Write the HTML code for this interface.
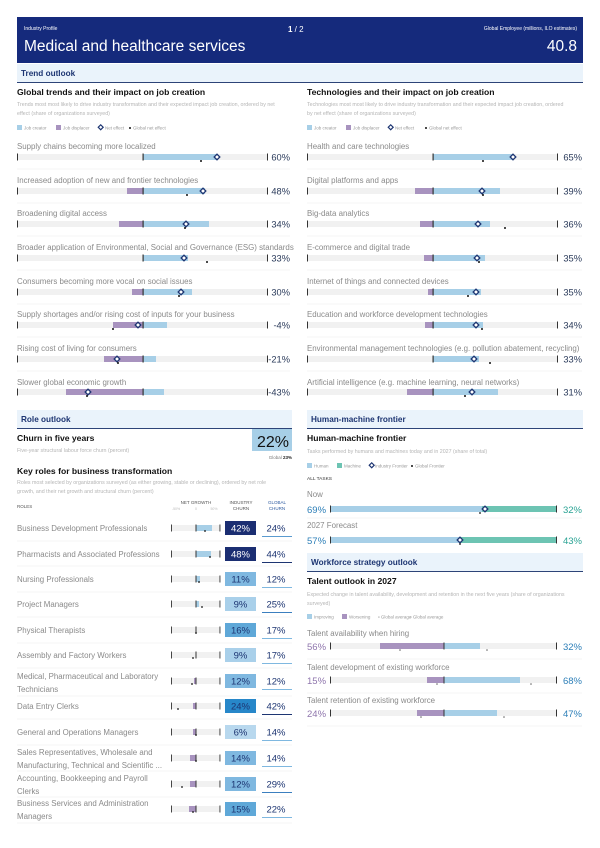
<!DOCTYPE html>
<html><head><meta charset="utf-8"><style>
html,body{margin:0;padding:0;background:#fff;}
svg{display:block;font-family:"Liberation Sans",sans-serif;}
.lb{font-size:7.9px;fill:#8a8a8a;}
.ds{font-size:5.3px;fill:#b5b5b5;}
.h{font-size:8.6px;font-weight:bold;fill:#111;}
.bd{font-size:8.2px;font-weight:bold;fill:#1d3572;}
.pc{font-size:9.3px;fill:#2a3a5a;}
</style></head><body>
<svg width="600" height="848" viewBox="0 0 600 848">
<rect x="17" y="17" width="566" height="46" fill="#152a7c"/>
<text x="24" y="30" font-size="5" fill="#fff">Industry Profile</text>
<text x="24" y="51" font-size="15.5" fill="#fff">Medical and healthcare services</text>
<text x="288" y="32" font-size="8" fill="#fff"><tspan font-weight="bold">1</tspan> / 2</text>
<text x="577" y="30" font-size="5" fill="#fff" text-anchor="end">Global Employee (millions, ILO estimates)</text>
<text x="577" y="51" font-size="15.5" fill="#fff" text-anchor="end">40.8</text>
<rect x="17" y="64" width="566" height="18" fill="#eaf3fb"/>
<rect x="17" y="82" width="566" height="1" fill="#2d4478"/>
<text x="21" y="76" class="bd">Trend outlook</text>

<text x="17" y="95" class="h">Global trends and their impact on job creation</text>
<text x="17" y="106" class="ds">Trends most most likely to drive industry transformation and their expected impact job creation, ordered by net</text>
<text x="17" y="115" class="ds">effect (share of organizations surveyed)</text>
<g font-size="4.5" fill="#999">
<rect x="17" y="125" width="5" height="5" fill="#a7cfe7"/><text x="24" y="129.5">Job creator</text>
<rect x="56" y="125" width="5" height="5" fill="#a893bf"/><text x="63" y="129.5">Job displacer</text>
<rect x="99" y="125.5" width="3.5" height="3.5" fill="none" stroke="#1d3572" stroke-width="1.2" transform="rotate(45 100.7 127.2)"/><text x="105" y="129.5">Net effect</text>
<circle cx="130" cy="128" r="1" fill="#111"/><text x="133" y="129.5">Global net effect</text>
</g>
<g font-size="4.5" fill="#999">
<rect x="307" y="125" width="5" height="5" fill="#a7cfe7"/><text x="314" y="129.5">Job creator</text>
<rect x="346" y="125" width="5" height="5" fill="#a893bf"/><text x="353" y="129.5">Job displacer</text>
<rect x="389" y="125.5" width="3.5" height="3.5" fill="none" stroke="#1d3572" stroke-width="1.2" transform="rotate(45 390.7 127.2)"/><text x="395" y="129.5">Net effect</text>
<circle cx="426" cy="128" r="1" fill="#111"/><text x="429" y="129.5">Global net effect</text>
</g>
<text x="307" y="95" class="h">Technologies and their impact on job creation</text>
<text x="307" y="106" class="ds">Technologies most most likely to drive industry transformation and their expected impact job creation, ordered</text>
<text x="307" y="115" class="ds">by net effect (share of organizations surveyed)</text>

<defs>
<g id="dia"><rect x="-2" y="-2" width="4" height="4" fill="#fff" stroke="#1d3572" stroke-width="1.3" transform="rotate(45)"/></g>
</defs>

<text x="17" y="149" class="lb">Supply chains becoming more localized</text>
<text x="17" y="183" class="lb">Increased adoption of new and frontier technologies</text>
<text x="17" y="216" class="lb">Broadening digital access</text>
<text x="17" y="250" class="lb">Broader application of Environmental, Social and Governance (ESG) standards</text>
<text x="17" y="284" class="lb">Consumers becoming more vocal on social issues</text>
<text x="17" y="317" class="lb">Supply shortages and/or rising cost of inputs for your business</text>
<text x="17" y="351" class="lb">Rising cost of living for consumers</text>
<text x="17" y="385" class="lb">Slower global economic growth</text>
<text x="307" y="149" class="lb">Health and care technologies</text>
<text x="307" y="183" class="lb">Digital platforms and apps</text>
<text x="307" y="216" class="lb">Big-data analytics</text>
<text x="307" y="250" class="lb">E-commerce and digital trade</text>
<text x="307" y="284" class="lb">Internet of things and connected devices</text>
<text x="307" y="317" class="lb">Education and workforce development technologies</text>
<text x="307" y="351" class="lb">Environmental management technologies (e.g. pollution abatement, recycling)</text>
<text x="307" y="385" class="lb">Artificial intelligence (e.g. machine learning, neural networks)</text>

<g>
<g transform="translate(0,157)"><rect x="18" y="-3" width="249" height="6" fill="#f1f1f1"/><rect x="143" y="-3" width="74" height="6" fill="#a7cfe7"/><rect x="142.5" y="-3.5" width="1.2" height="7" fill="#333"/><rect x="17" y="-3.5" width="1" height="7" fill="#333"/><rect x="267" y="-3.5" width="1" height="7" fill="#333"/><use href="#dia" x="217" y="0"/><circle cx="201" cy="4" r="1" fill="#111"/><text x="290" y="3.5" class="pc" text-anchor="end">60%</text></g>
<g transform="translate(0,191)"><rect x="18" y="-3" width="249" height="6" fill="#f1f1f1"/><rect x="127" y="-3" width="16" height="6" fill="#a893bf"/><rect x="143" y="-3" width="62" height="6" fill="#a7cfe7"/><rect x="142.5" y="-3.5" width="1.2" height="7" fill="#333"/><rect x="17" y="-3.5" width="1" height="7" fill="#333"/><rect x="267" y="-3.5" width="1" height="7" fill="#333"/><use href="#dia" x="203" y="0"/><circle cx="187" cy="4" r="1" fill="#111"/><text x="290" y="3.5" class="pc" text-anchor="end">48%</text></g>
<g transform="translate(0,224)"><rect x="18" y="-3" width="249" height="6" fill="#f1f1f1"/><rect x="119" y="-3" width="24" height="6" fill="#a893bf"/><rect x="143" y="-3" width="66" height="6" fill="#a7cfe7"/><rect x="142.5" y="-3.5" width="1.2" height="7" fill="#333"/><rect x="17" y="-3.5" width="1" height="7" fill="#333"/><rect x="267" y="-3.5" width="1" height="7" fill="#333"/><use href="#dia" x="186" y="0"/><circle cx="185" cy="4" r="1" fill="#111"/><text x="290" y="3.5" class="pc" text-anchor="end">34%</text></g>
<g transform="translate(0,258)"><rect x="18" y="-3" width="249" height="6" fill="#f1f1f1"/><rect x="143" y="-3" width="45" height="6" fill="#a7cfe7"/><rect x="142.5" y="-3.5" width="1.2" height="7" fill="#333"/><rect x="17" y="-3.5" width="1" height="7" fill="#333"/><rect x="267" y="-3.5" width="1" height="7" fill="#333"/><use href="#dia" x="184" y="0"/><circle cx="207" cy="4" r="1" fill="#111"/><text x="290" y="3.5" class="pc" text-anchor="end">33%</text></g>
<g transform="translate(0,292)"><rect x="18" y="-3" width="249" height="6" fill="#f1f1f1"/><rect x="132" y="-3" width="11" height="6" fill="#a893bf"/><rect x="143" y="-3" width="49" height="6" fill="#a7cfe7"/><rect x="142.5" y="-3.5" width="1.2" height="7" fill="#333"/><rect x="17" y="-3.5" width="1" height="7" fill="#333"/><rect x="267" y="-3.5" width="1" height="7" fill="#333"/><use href="#dia" x="181" y="0"/><circle cx="179" cy="4" r="1" fill="#111"/><text x="290" y="3.5" class="pc" text-anchor="end">30%</text></g>
<g transform="translate(0,325)"><rect x="18" y="-3" width="249" height="6" fill="#f1f1f1"/><rect x="113" y="-3" width="30" height="6" fill="#a893bf"/><rect x="143" y="-3" width="24" height="6" fill="#a7cfe7"/><rect x="142.5" y="-3.5" width="1.2" height="7" fill="#333"/><rect x="17" y="-3.5" width="1" height="7" fill="#333"/><rect x="267" y="-3.5" width="1" height="7" fill="#333"/><use href="#dia" x="138" y="0"/><circle cx="113" cy="4" r="1" fill="#111"/><text x="290" y="3.5" class="pc" text-anchor="end">-4%</text></g>
<g transform="translate(0,359)"><rect x="18" y="-3" width="249" height="6" fill="#f1f1f1"/><rect x="104" y="-3" width="39" height="6" fill="#a893bf"/><rect x="143" y="-3" width="13" height="6" fill="#a7cfe7"/><rect x="142.5" y="-3.5" width="1.2" height="7" fill="#333"/><rect x="17" y="-3.5" width="1" height="7" fill="#333"/><rect x="267" y="-3.5" width="1" height="7" fill="#333"/><use href="#dia" x="117" y="0"/><circle cx="118" cy="4" r="1" fill="#111"/><text x="290" y="3.5" class="pc" text-anchor="end">-21%</text></g>
<g transform="translate(0,392)"><rect x="18" y="-3" width="249" height="6" fill="#f1f1f1"/><rect x="66" y="-3" width="77" height="6" fill="#a893bf"/><rect x="143" y="-3" width="21" height="6" fill="#a7cfe7"/><rect x="142.5" y="-3.5" width="1.2" height="7" fill="#333"/><rect x="17" y="-3.5" width="1" height="7" fill="#333"/><rect x="267" y="-3.5" width="1" height="7" fill="#333"/><use href="#dia" x="88" y="0"/><circle cx="87" cy="4" r="1" fill="#111"/><text x="290" y="3.5" class="pc" text-anchor="end">-43%</text></g>

<g transform="translate(0,157)"><rect x="308" y="-3" width="249" height="6" fill="#f1f1f1"/><rect x="433" y="-3" width="80" height="6" fill="#a7cfe7"/><rect x="432.5" y="-3.5" width="1.2" height="7" fill="#333"/><rect x="307" y="-3.5" width="1" height="7" fill="#333"/><rect x="557" y="-3.5" width="1" height="7" fill="#333"/><use href="#dia" x="513" y="0"/><circle cx="483" cy="4" r="1" fill="#111"/><text x="582" y="3.5" class="pc" text-anchor="end">65%</text></g>
<g transform="translate(0,191)"><rect x="308" y="-3" width="249" height="6" fill="#f1f1f1"/><rect x="415" y="-3" width="18" height="6" fill="#a893bf"/><rect x="433" y="-3" width="67" height="6" fill="#a7cfe7"/><rect x="432.5" y="-3.5" width="1.2" height="7" fill="#333"/><rect x="307" y="-3.5" width="1" height="7" fill="#333"/><rect x="557" y="-3.5" width="1" height="7" fill="#333"/><use href="#dia" x="482" y="0"/><circle cx="483" cy="4" r="1" fill="#111"/><text x="582" y="3.5" class="pc" text-anchor="end">39%</text></g>
<g transform="translate(0,224)"><rect x="308" y="-3" width="249" height="6" fill="#f1f1f1"/><rect x="420" y="-3" width="13" height="6" fill="#a893bf"/><rect x="433" y="-3" width="57" height="6" fill="#a7cfe7"/><rect x="432.5" y="-3.5" width="1.2" height="7" fill="#333"/><rect x="307" y="-3.5" width="1" height="7" fill="#333"/><rect x="557" y="-3.5" width="1" height="7" fill="#333"/><use href="#dia" x="478" y="0"/><circle cx="505" cy="4" r="1" fill="#111"/><text x="582" y="3.5" class="pc" text-anchor="end">36%</text></g>
<g transform="translate(0,258)"><rect x="308" y="-3" width="249" height="6" fill="#f1f1f1"/><rect x="424" y="-3" width="9" height="6" fill="#a893bf"/><rect x="433" y="-3" width="52" height="6" fill="#a7cfe7"/><rect x="432.5" y="-3.5" width="1.2" height="7" fill="#333"/><rect x="307" y="-3.5" width="1" height="7" fill="#333"/><rect x="557" y="-3.5" width="1" height="7" fill="#333"/><use href="#dia" x="477" y="0"/><circle cx="479" cy="4" r="1" fill="#111"/><text x="582" y="3.5" class="pc" text-anchor="end">35%</text></g>
<g transform="translate(0,292)"><rect x="308" y="-3" width="249" height="6" fill="#f1f1f1"/><rect x="428" y="-3" width="5" height="6" fill="#a893bf"/><rect x="433" y="-3" width="48" height="6" fill="#a7cfe7"/><rect x="432.5" y="-3.5" width="1.2" height="7" fill="#333"/><rect x="307" y="-3.5" width="1" height="7" fill="#333"/><rect x="557" y="-3.5" width="1" height="7" fill="#333"/><use href="#dia" x="476" y="0"/><circle cx="468" cy="4" r="1" fill="#111"/><text x="582" y="3.5" class="pc" text-anchor="end">35%</text></g>
<g transform="translate(0,325)"><rect x="308" y="-3" width="249" height="6" fill="#f1f1f1"/><rect x="425" y="-3" width="8" height="6" fill="#a893bf"/><rect x="433" y="-3" width="50" height="6" fill="#a7cfe7"/><rect x="432.5" y="-3.5" width="1.2" height="7" fill="#333"/><rect x="307" y="-3.5" width="1" height="7" fill="#333"/><rect x="557" y="-3.5" width="1" height="7" fill="#333"/><use href="#dia" x="476" y="0"/><circle cx="482" cy="4" r="1" fill="#111"/><text x="582" y="3.5" class="pc" text-anchor="end">34%</text></g>
<g transform="translate(0,359)"><rect x="308" y="-3" width="249" height="6" fill="#f1f1f1"/><rect x="433" y="-3" width="46" height="6" fill="#a7cfe7"/><rect x="432.5" y="-3.5" width="1.2" height="7" fill="#333"/><rect x="307" y="-3.5" width="1" height="7" fill="#333"/><rect x="557" y="-3.5" width="1" height="7" fill="#333"/><use href="#dia" x="474" y="0"/><circle cx="490" cy="4" r="1" fill="#111"/><text x="582" y="3.5" class="pc" text-anchor="end">33%</text></g>
<g transform="translate(0,392)"><rect x="308" y="-3" width="249" height="6" fill="#f1f1f1"/><rect x="407" y="-3" width="26" height="6" fill="#a893bf"/><rect x="433" y="-3" width="65" height="6" fill="#a7cfe7"/><rect x="432.5" y="-3.5" width="1.2" height="7" fill="#333"/><rect x="307" y="-3.5" width="1" height="7" fill="#333"/><rect x="557" y="-3.5" width="1" height="7" fill="#333"/><use href="#dia" x="472" y="0"/><circle cx="465" cy="4" r="1" fill="#111"/><text x="582" y="3.5" class="pc" text-anchor="end">31%</text></g>
</g>
<g stroke="#f0f0f0" stroke-width="0.8">
<line x1="17" y1="169" x2="290" y2="169"/><line x1="17" y1="203" x2="290" y2="203"/><line x1="17" y1="236" x2="290" y2="236"/><line x1="17" y1="270" x2="290" y2="270"/><line x1="17" y1="304" x2="290" y2="304"/><line x1="17" y1="337" x2="290" y2="337"/><line x1="17" y1="371" x2="290" y2="371"/>
<line x1="307" y1="169" x2="582" y2="169"/><line x1="307" y1="203" x2="582" y2="203"/><line x1="307" y1="236" x2="582" y2="236"/><line x1="307" y1="270" x2="582" y2="270"/><line x1="307" y1="304" x2="582" y2="304"/><line x1="307" y1="337" x2="582" y2="337"/><line x1="307" y1="371" x2="582" y2="371"/>
</g>

<rect x="17" y="410" width="275" height="18" fill="#eaf3fb"/>
<rect x="17" y="428" width="275" height="1" fill="#2d4478"/>
<text x="21" y="422" class="bd">Role outlook</text>
<text x="17" y="441" class="h">Churn in five years</text>
<text x="17" y="452" class="ds">Five-year structural labour force churn (percent)</text>
<rect x="252" y="429" width="40" height="22" fill="#a7cfe7"/>
<text x="289" y="447" font-size="16" fill="#111" text-anchor="end">22%</text>
<text x="292" y="459" font-size="4.5" fill="#777" text-anchor="end">Global <tspan font-weight="bold" fill="#222">23%</tspan></text>
<text x="17" y="474" class="h">Key roles for business transformation</text>
<text x="17" y="484" class="ds">Roles most selected by organizations surveyed (as either growing, stable or declining), ordered by net role</text>
<text x="17" y="493" class="ds">growth, and their net growth and structural churn (percent)</text>
<g font-size="4.5" fill="#555">
<text x="17" y="508">ROLES</text>
<text x="196" y="504" text-anchor="middle">NET GROWTH</text>
<text x="241" y="504" text-anchor="middle">INDUSTRY</text>
<text x="241" y="510" text-anchor="middle">CHURN</text>
<text x="277" y="504" text-anchor="middle" fill="#2d5aa0">GLOBAL</text>
<text x="277" y="510" text-anchor="middle" fill="#2d5aa0">CHURN</text>
</g>
<g font-size="3.5" fill="#bbb"><text x="176" y="510" text-anchor="middle">-50%</text><text x="196" y="510" text-anchor="middle">0</text><text x="214" y="510" text-anchor="middle">50%</text></g>

<g font-size="7.9px" fill="#8a8a8a">
<text x="17" y="531">Business Development Professionals</text>
<text x="17" y="557">Pharmacists and Associated Professions</text>
<text x="17" y="582">Nursing Professionals</text>
<text x="17" y="607">Project Managers</text>
<text x="17" y="633">Physical Therapists</text>
<text x="17" y="658">Assembly and Factory Workers</text>
<text x="17" y="679">Medical, Pharmaceutical and Laboratory</text>
<text x="17" y="692">Technicians</text>
<text x="17" y="709">Data Entry Clerks</text>
<text x="17" y="735">General and Operations Managers</text>
<text x="17" y="755">Sales Representatives, Wholesale and</text>
<text x="17" y="768">Manufacturing, Technical and Scientific ...</text>
<text x="17" y="781">Accounting, Bookkeeping and Payroll</text>
<text x="17" y="794">Clerks</text>
<text x="17" y="806">Business Services and Administration</text>
<text x="17" y="819">Managers</text>
</g>
<g>
<g transform="translate(0,528)"><rect x="171" y="-3" width="49" height="6" fill="#f1f1f1"/><rect x="196" y="-3" width="16" height="6" fill="#a7cfe7"/><rect x="171" y="-3.5" width="0.9" height="7" fill="#333"/><rect x="219.5" y="-3.5" width="0.9" height="7" fill="#333"/><rect x="195.5" y="-3.5" width="1" height="7" fill="#333"/><circle cx="205" cy="3" r="0.9" fill="#111"/><rect x="225" y="-7" width="31" height="14" fill="#1b2e72"/><text x="240.5" y="3.5" font-size="9.5" fill="#fff" text-anchor="middle">42%</text><text x="276" y="3.5" font-size="9.5" fill="#1d3572" text-anchor="middle">24%</text><rect x="262" y="8" width="30" height="1" fill="#5a9bd0"/></g>
<g transform="translate(0,554)"><rect x="171" y="-3" width="49" height="6" fill="#f1f1f1"/><rect x="196" y="-3" width="15" height="6" fill="#a7cfe7"/><rect x="171" y="-3.5" width="0.9" height="7" fill="#333"/><rect x="219.5" y="-3.5" width="0.9" height="7" fill="#333"/><rect x="195.5" y="-3.5" width="1" height="7" fill="#333"/><circle cx="210" cy="3" r="0.9" fill="#111"/><rect x="225" y="-7" width="31" height="14" fill="#1b2e72"/><text x="240.5" y="3.5" font-size="9.5" fill="#fff" text-anchor="middle">48%</text><text x="276" y="3.5" font-size="9.5" fill="#1d3572" text-anchor="middle">44%</text><rect x="262" y="8" width="30" height="1" fill="#1d3572"/></g>
<g transform="translate(0,579)"><rect x="171" y="-3" width="49" height="6" fill="#f1f1f1"/><rect x="196" y="-3" width="4" height="6" fill="#a7cfe7"/><rect x="171" y="-3.5" width="0.9" height="7" fill="#333"/><rect x="219.5" y="-3.5" width="0.9" height="7" fill="#333"/><rect x="195.5" y="-3.5" width="1" height="7" fill="#333"/><circle cx="199" cy="3" r="0.9" fill="#111"/><rect x="225" y="-7" width="31" height="14" fill="#7fb8e0"/><text x="240.5" y="3.5" font-size="9.5" fill="#1d3572" text-anchor="middle">11%</text><text x="276" y="3.5" font-size="9.5" fill="#1d3572" text-anchor="middle">12%</text><rect x="262" y="8" width="30" height="1" fill="#7fb8e0"/></g>
<g transform="translate(0,604)"><rect x="171" y="-3" width="49" height="6" fill="#f1f1f1"/><rect x="196" y="-3" width="3" height="6" fill="#a7cfe7"/><rect x="171" y="-3.5" width="0.9" height="7" fill="#333"/><rect x="219.5" y="-3.5" width="0.9" height="7" fill="#333"/><rect x="195.5" y="-3.5" width="1" height="7" fill="#333"/><circle cx="202" cy="3" r="0.9" fill="#111"/><rect x="225" y="-7" width="31" height="14" fill="#a9d0ea"/><text x="240.5" y="3.5" font-size="9.5" fill="#1d3572" text-anchor="middle">9%</text><text x="276" y="3.5" font-size="9.5" fill="#1d3572" text-anchor="middle">25%</text><rect x="262" y="8" width="30" height="1" fill="#3b7fbf"/></g>
<g transform="translate(0,630)"><rect x="171" y="-3" width="49" height="6" fill="#f1f1f1"/><rect x="171" y="-3.5" width="0.9" height="7" fill="#333"/><rect x="219.5" y="-3.5" width="0.9" height="7" fill="#333"/><rect x="195.5" y="-3.5" width="1" height="7" fill="#333"/><circle cx="196" cy="3" r="0.9" fill="#111"/><rect x="225" y="-7" width="31" height="14" fill="#5fa8d8"/><text x="240.5" y="3.5" font-size="9.5" fill="#1d3572" text-anchor="middle">16%</text><text x="276" y="3.5" font-size="9.5" fill="#1d3572" text-anchor="middle">17%</text><rect x="262" y="8" width="30" height="1" fill="#7fb8e0"/></g>
<g transform="translate(0,655)"><rect x="171" y="-3" width="49" height="6" fill="#f1f1f1"/><rect x="171" y="-3.5" width="0.9" height="7" fill="#333"/><rect x="219.5" y="-3.5" width="0.9" height="7" fill="#333"/><rect x="195.5" y="-3.5" width="1" height="7" fill="#333"/><circle cx="193" cy="3" r="0.9" fill="#111"/><rect x="225" y="-7" width="31" height="14" fill="#a9d0ea"/><text x="240.5" y="3.5" font-size="9.5" fill="#1d3572" text-anchor="middle">9%</text><text x="276" y="3.5" font-size="9.5" fill="#1d3572" text-anchor="middle">17%</text><rect x="262" y="8" width="30" height="1" fill="#7fb8e0"/></g>
<g transform="translate(0,681)"><rect x="171" y="-3" width="49" height="6" fill="#f1f1f1"/><rect x="194" y="-3" width="2" height="6" fill="#a893bf"/><rect x="171" y="-3.5" width="0.9" height="7" fill="#333"/><rect x="219.5" y="-3.5" width="0.9" height="7" fill="#333"/><rect x="195.5" y="-3.5" width="1" height="7" fill="#333"/><circle cx="192" cy="3" r="0.9" fill="#111"/><rect x="225" y="-7" width="31" height="14" fill="#7fb8e0"/><text x="240.5" y="3.5" font-size="9.5" fill="#1d3572" text-anchor="middle">12%</text><text x="276" y="3.5" font-size="9.5" fill="#1d3572" text-anchor="middle">12%</text><rect x="262" y="8" width="30" height="1" fill="#7fb8e0"/></g>
<g transform="translate(0,706)"><rect x="171" y="-3" width="49" height="6" fill="#f1f1f1"/><rect x="193" y="-3" width="3" height="6" fill="#a893bf"/><rect x="171" y="-3.5" width="0.9" height="7" fill="#333"/><rect x="219.5" y="-3.5" width="0.9" height="7" fill="#333"/><rect x="195.5" y="-3.5" width="1" height="7" fill="#333"/><circle cx="178" cy="3" r="0.9" fill="#111"/><rect x="225" y="-7" width="31" height="14" fill="#2787c9"/><text x="240.5" y="3.5" font-size="9.5" fill="#1d3572" text-anchor="middle">24%</text><text x="276" y="3.5" font-size="9.5" fill="#1d3572" text-anchor="middle">42%</text><rect x="262" y="8" width="30" height="1" fill="#1d3572"/></g>
<g transform="translate(0,732)"><rect x="171" y="-3" width="49" height="6" fill="#f1f1f1"/><rect x="193" y="-3" width="3" height="6" fill="#a893bf"/><rect x="171" y="-3.5" width="0.9" height="7" fill="#333"/><rect x="219.5" y="-3.5" width="0.9" height="7" fill="#333"/><rect x="195.5" y="-3.5" width="1" height="7" fill="#333"/><circle cx="196" cy="3" r="0.9" fill="#111"/><rect x="225" y="-7" width="31" height="14" fill="#b8d8ee"/><text x="240.5" y="3.5" font-size="9.5" fill="#1d3572" text-anchor="middle">6%</text><text x="276" y="3.5" font-size="9.5" fill="#1d3572" text-anchor="middle">14%</text><rect x="262" y="8" width="30" height="1" fill="#7fb8e0"/></g>
<g transform="translate(0,758)"><rect x="171" y="-3" width="49" height="6" fill="#f1f1f1"/><rect x="190" y="-3" width="6" height="6" fill="#a893bf"/><rect x="171" y="-3.5" width="0.9" height="7" fill="#333"/><rect x="219.5" y="-3.5" width="0.9" height="7" fill="#333"/><rect x="195.5" y="-3.5" width="1" height="7" fill="#333"/><circle cx="196" cy="3" r="0.9" fill="#111"/><rect x="225" y="-7" width="31" height="14" fill="#7fb8e0"/><text x="240.5" y="3.5" font-size="9.5" fill="#1d3572" text-anchor="middle">14%</text><text x="276" y="3.5" font-size="9.5" fill="#1d3572" text-anchor="middle">14%</text><rect x="262" y="8" width="30" height="1" fill="#7fb8e0"/></g>
<g transform="translate(0,784)"><rect x="171" y="-3" width="49" height="6" fill="#f1f1f1"/><rect x="190" y="-3" width="6" height="6" fill="#a893bf"/><rect x="171" y="-3.5" width="0.9" height="7" fill="#333"/><rect x="219.5" y="-3.5" width="0.9" height="7" fill="#333"/><rect x="195.5" y="-3.5" width="1" height="7" fill="#333"/><circle cx="182" cy="3" r="0.9" fill="#111"/><rect x="225" y="-7" width="31" height="14" fill="#7fb8e0"/><text x="240.5" y="3.5" font-size="9.5" fill="#1d3572" text-anchor="middle">12%</text><text x="276" y="3.5" font-size="9.5" fill="#1d3572" text-anchor="middle">29%</text><rect x="262" y="8" width="30" height="1" fill="#3b7fbf"/></g>
<g transform="translate(0,809)"><rect x="171" y="-3" width="49" height="6" fill="#f1f1f1"/><rect x="189" y="-3" width="7" height="6" fill="#a893bf"/><rect x="171" y="-3.5" width="0.9" height="7" fill="#333"/><rect x="219.5" y="-3.5" width="0.9" height="7" fill="#333"/><rect x="195.5" y="-3.5" width="1" height="7" fill="#333"/><circle cx="193" cy="3" r="0.9" fill="#111"/><rect x="225" y="-7" width="31" height="14" fill="#5fa8d8"/><text x="240.5" y="3.5" font-size="9.5" fill="#1d3572" text-anchor="middle">15%</text><text x="276" y="3.5" font-size="9.5" fill="#1d3572" text-anchor="middle">22%</text><rect x="262" y="8" width="30" height="1" fill="#7fb8e0"/></g>
</g>
<g stroke="#f0f0f0" stroke-width="0.8">
<line x1="17" y1="541" x2="292" y2="541"/><line x1="17" y1="566" x2="292" y2="566"/><line x1="17" y1="592" x2="292" y2="592"/><line x1="17" y1="617" x2="292" y2="617"/><line x1="17" y1="643" x2="292" y2="643"/><line x1="17" y1="668" x2="292" y2="668"/><line x1="17" y1="696" x2="292" y2="696"/><line x1="17" y1="719" x2="292" y2="719"/><line x1="17" y1="745" x2="292" y2="745"/><line x1="17" y1="771" x2="292" y2="771"/><line x1="17" y1="797" x2="292" y2="797"/><line x1="17" y1="823" x2="292" y2="823"/>
</g>

<rect x="307" y="410" width="276" height="18" fill="#eaf3fb"/>
<rect x="307" y="428" width="276" height="1" fill="#2d4478"/>
<text x="311" y="422" class="bd">Human-machine frontier</text>
<text x="307" y="441" class="h">Human-machine frontier</text>
<text x="307" y="453" class="ds">Tasks performed by humans and machines today and in 2027 (share of total)</text>
<g font-size="4.5" fill="#999">
<rect x="307" y="463" width="5" height="5" fill="#a7cfe7"/><text x="314" y="467.5">Human</text>
<rect x="337" y="463" width="5" height="5" fill="#6dc4b3"/><text x="344" y="467.5">Machine</text>
<rect x="370" y="463.5" width="3.5" height="3.5" fill="none" stroke="#1d3572" stroke-width="1.2" transform="rotate(45 371.7 465.2)"/><text x="375" y="467.5">Industry Frontier</text>
<circle cx="412" cy="466" r="1" fill="#111"/><text x="415" y="467.5">Global Frontier</text>
</g>
<text x="307" y="480" font-size="4.8" fill="#333">ALL TASKS</text>
<text x="307" y="497" class="lb">Now</text>
<text x="307" y="513" font-size="9.5" fill="#2d7fb8">69%</text>
<rect x="330" y="506" width="152" height="6" fill="#a7cfe7"/><rect x="482" y="506" width="75" height="6" fill="#6dc4b3"/>
<rect x="330" y="505.5" width="1" height="7" fill="#333"/><rect x="556" y="505.5" width="1" height="7" fill="#333"/>
<use href="#dia" x="485" y="509"/><circle cx="480" cy="513" r="0.9" fill="#111"/>
<text x="582" y="513" font-size="9.5" fill="#2aa394" text-anchor="end">32%</text>
<text x="307" y="528" class="lb">2027 Forecast</text>
<text x="307" y="544" font-size="9.5" fill="#2d7fb8">57%</text>
<rect x="330" y="537" width="130" height="6" fill="#a7cfe7"/><rect x="460" y="537" width="97" height="6" fill="#6dc4b3"/>
<rect x="330" y="536.5" width="1" height="7" fill="#333"/><rect x="556" y="536.5" width="1" height="7" fill="#333"/>
<use href="#dia" x="460" y="540"/><circle cx="460" cy="544" r="0.9" fill="#111"/>
<text x="582" y="544" font-size="9.5" fill="#2aa394" text-anchor="end">43%</text>

<rect x="307" y="553" width="276" height="18" fill="#eaf3fb"/>
<rect x="307" y="571" width="276" height="1" fill="#2d4478"/>
<text x="311" y="565" class="bd">Workforce strategy outlook</text>
<text x="307" y="584" class="h">Talent outlook in 2027</text>
<text x="307" y="596" class="ds">Expected change in talent availability, development and retention in the next five years (share of organizations</text>
<text x="307" y="605" class="ds">surveyed)</text>
<g font-size="4.5" fill="#999">
<rect x="307" y="614" width="5" height="5" fill="#a7cfe7"/><text x="314" y="618.5">Improving</text>
<rect x="342" y="614" width="5" height="5" fill="#a893bf"/><text x="349" y="618.5">Worsening</text>
<text x="378" y="618.5">▪ Global average</text><text x="410" y="618.5">▪ Global average</text>
</g>
<text x="307" y="636" class="lb">Talent availability when hiring</text>
<text x="307" y="650" font-size="9.5" fill="#8f76ad">56%</text>
<rect x="331" y="643" width="226" height="6" fill="#f1f1f1"/><rect x="380" y="643" width="64" height="6" fill="#a893bf"/><rect x="444" y="643" width="36" height="6" fill="#a7cfe7"/>
<rect x="330" y="642.5" width="1" height="7" fill="#333"/><rect x="556" y="642.5" width="1" height="7" fill="#333"/><rect x="443.5" y="642.5" width="1" height="7" fill="#333"/>
<circle cx="400" cy="650" r="0.8" fill="#666"/><circle cx="487" cy="650" r="0.8" fill="#666"/>
<text x="582" y="650" font-size="9.5" fill="#2d7fb8" text-anchor="end">32%</text>
<text x="307" y="670" class="lb">Talent development of existing workforce</text>
<text x="307" y="684" font-size="9.5" fill="#8f76ad">15%</text>
<rect x="331" y="677" width="226" height="6" fill="#f1f1f1"/><rect x="427" y="677" width="17" height="6" fill="#a893bf"/><rect x="444" y="677" width="76" height="6" fill="#a7cfe7"/>
<rect x="330" y="676.5" width="1" height="7" fill="#333"/><rect x="556" y="676.5" width="1" height="7" fill="#333"/><rect x="443.5" y="676.5" width="1" height="7" fill="#333"/>
<circle cx="437" cy="684" r="0.8" fill="#666"/><circle cx="531" cy="684" r="0.8" fill="#666"/>
<text x="582" y="684" font-size="9.5" fill="#2d7fb8" text-anchor="end">68%</text>
<text x="307" y="703" class="lb">Talent retention of existing workforce</text>
<text x="307" y="717" font-size="9.5" fill="#8f76ad">24%</text>
<rect x="331" y="710" width="226" height="6" fill="#f1f1f1"/><rect x="417" y="710" width="27" height="6" fill="#a893bf"/><rect x="444" y="710" width="53" height="6" fill="#a7cfe7"/>
<rect x="330" y="709.5" width="1" height="7" fill="#333"/><rect x="556" y="709.5" width="1" height="7" fill="#333"/><rect x="443.5" y="709.5" width="1" height="7" fill="#333"/>
<circle cx="421" cy="717" r="0.8" fill="#666"/><circle cx="504" cy="717" r="0.8" fill="#666"/>
<text x="582" y="717" font-size="9.5" fill="#2d7fb8" text-anchor="end">47%</text>
<g stroke="#f0f0f0" stroke-width="0.8"><line x1="307" y1="659" x2="582" y2="659"/><line x1="307" y1="693" x2="582" y2="693"/><line x1="307" y1="726" x2="582" y2="726"/><line x1="307" y1="518" x2="582" y2="518"/></g>
</svg>
</body></html>
